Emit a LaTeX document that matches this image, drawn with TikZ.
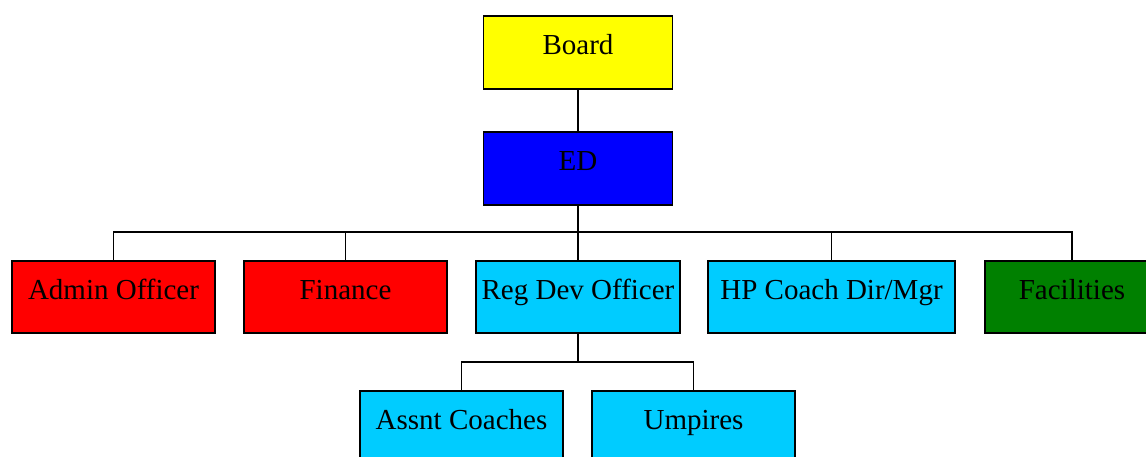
\documentclass[tikz,border=0pt]{standalone}
\usepackage{fontspec}
\setmainfont{Liberation Serif}
\definecolor{boardyellow}{HTML}{FFFF00}
\definecolor{edblue}{HTML}{0000FF}
\definecolor{adminred}{HTML}{FF0000}
\definecolor{staffcyan}{HTML}{00CCFF}
\definecolor{facgreen}{HTML}{008000}
\tikzset{
  orgbox/.style={draw=black, line width=1.3pt, rectangle, inner sep=0pt,
    minimum height=72pt, text height=19pt, text depth=15pt,
    font=\fontsize{29}{32}\selectfont},
  link/.style={draw=black, line width=1.3pt}
}
\begin{document}
\begin{tikzpicture}[x=1pt,y=-1pt]
  \useasboundingbox (0,0) rectangle (1146,457);
  \clip (0,0) rectangle (1146,457);
  % top levels
  \node[orgbox, fill=boardyellow, minimum width=189pt, minimum height=73pt] (board) at (578,52.5) {Board};
  \node[orgbox, fill=edblue, minimum width=189pt, minimum height=73pt] (ed) at (578,168.5) {ED};
  % direct reports of the ED
  \node[orgbox, fill=adminred, minimum width=203pt] (admin) at (113.5,297) {Admin Officer};
  \node[orgbox, fill=adminred, minimum width=203pt] (finance) at (345.5,297) {Finance};
  \node[orgbox, fill=staffcyan, minimum width=204pt] (regdev) at (578,297) {Reg Dev Officer};
  \node[orgbox, fill=staffcyan, minimum width=247pt] (hpcoach) at (831.5,297) {HP Coach Dir/Mgr};
  \node[orgbox, fill=facgreen, minimum width=174pt] (facilities) at (1072,297) {Facilities};
  % staff under the regional development officer
  \node[orgbox, fill=staffcyan, minimum width=203pt] (assnt) at (461.5,427) {Assnt Coaches};
  \node[orgbox, fill=staffcyan, minimum width=203pt] (umpires) at (693.5,427) {Umpires};
  % bus points
  \coordinate (edbus) at (578,232);
  \coordinate (regbus) at (578,362);
  % connectors
  \draw[link] (board.south) -- (ed.north);
  \draw[link] (ed.south) -- (edbus);
  \draw[link] (admin.north) |- (edbus);
  \draw[link] (finance.north) |- (edbus);
  \draw[link] (regdev.north) -- (edbus);
  \draw[link] (hpcoach.north) |- (edbus);
  \draw[link] (facilities.north) |- (edbus);
  \draw[link] (regdev.south) -- (regbus);
  \draw[link] (assnt.north) |- (regbus);
  \draw[link] (umpires.north) |- (regbus);
\end{tikzpicture}
\end{document}
